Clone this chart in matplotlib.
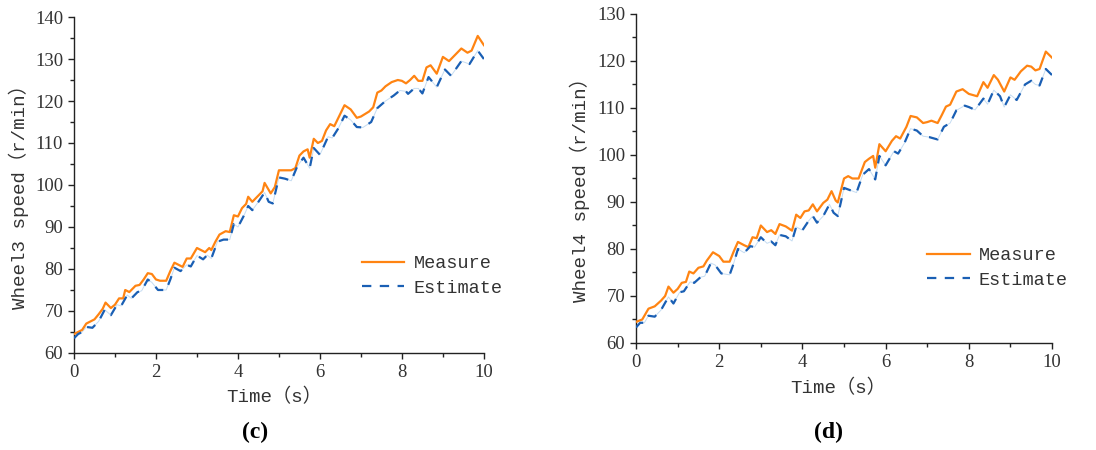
import matplotlib.pyplot as plt
from matplotlib.ticker import MultipleLocator

# --- panel (c): wheel 3 ---
t_meas_c = [0, 0.1, 0.2, 0.3, 0.4, 0.5, 0.6, 0.7, 0.77, 0.9, 1.0, 1.1, 1.2, 1.25, 1.35,
            1.5, 1.6, 1.7, 1.8, 1.9, 2.0, 2.1, 2.25, 2.35, 2.45, 2.55, 2.65, 2.75, 2.85,
            3.0, 3.1, 3.2, 3.3, 3.35, 3.45, 3.55, 3.7, 3.8, 3.9, 4.0, 4.1, 4.2, 4.25,
            4.35, 4.5, 4.6, 4.65, 4.8, 4.9, 5.0, 5.1, 5.3, 5.4, 5.5, 5.6, 5.7, 5.75,
            5.85, 5.95, 6.05, 6.15, 6.25, 6.35, 6.45, 6.6, 6.75, 6.9, 7.0, 7.2, 7.3,
            7.4, 7.5, 7.6, 7.75, 7.9, 8.0, 8.1, 8.2, 8.3, 8.4, 8.5, 8.6, 8.7, 8.85,
            9.0, 9.15, 9.3, 9.45, 9.6, 9.7, 9.85, 10.0]
v_meas_c = [64.5, 65, 65.5, 67, 67.5, 68, 69.2, 70.5, 72, 70.7, 71.5, 73, 73, 75, 74.5,
            76, 76.2, 77.5, 79, 78.8, 77.5, 77.2, 77.2, 79.5, 81.5, 81, 80.5, 82.5, 82.5,
            85, 84.5, 84, 85, 84.5, 86.5, 88.2, 89, 88.8, 92.8, 92.5, 94.5, 95.5, 97.2,
            96, 97.5, 98.5, 100.5, 98, 99.5, 103.5, 103.5, 103.5, 104, 107, 108, 108.5, 106.5,
            111, 110, 110.5, 113, 114.5, 114, 116, 119, 118, 116, 116.3, 117.5, 118.5,
            122, 122.5, 123.5, 124.5, 125, 124.8, 124.2, 125, 126, 124.8, 124.8, 128, 128.5, 126.5,
            130.5, 129.5, 131, 132.5, 131.5, 132, 135.5, 133.3]

t_est_c = [0, 0.1, 0.2, 0.3, 0.45, 0.6, 0.75, 0.9, 1.05, 1.15, 1.3, 1.4, 1.55, 1.65, 1.8,
           1.9, 2.05, 2.25, 2.35, 2.45, 2.6, 2.75, 2.85, 3.0, 3.15, 3.25, 3.35, 3.5, 3.65,
           3.8, 3.9, 4.0, 4.15, 4.25, 4.35, 4.5, 4.65, 4.75, 4.85, 5.0, 5.15, 5.3, 5.45,
           5.6, 5.75, 5.85, 6.0, 6.2, 6.3, 6.45, 6.6, 6.75, 6.9, 7.05, 7.25, 7.4, 7.6,
           7.8, 7.95, 8.1, 8.15, 8.3, 8.4, 8.5, 8.65, 8.85, 9.05, 9.2, 9.45, 9.65, 9.85, 10.0]
v_est_c = [63.5, 64.5, 65, 66.2, 66, 67.5, 70.3, 69, 71.5, 71.2, 73.8, 73, 74.5, 74.8, 77.5,
           76.8, 75, 75, 77.5, 80.3, 79.5, 81, 80.6, 83.2, 82.3, 83.3, 82.5, 86.5, 87,
           87, 90.7, 90, 92.8, 95, 94, 96, 98.2, 96, 95.6, 101.8, 101.5, 101, 104.5,
           106.5, 104, 108.8, 107.2, 111.5, 111.2, 113.5, 116.5, 115.5, 113.8, 113.7, 115, 118.3, 120,
           121.3, 122.5, 122.3, 121.7, 123, 123, 121.8, 125.7, 123.3, 127.5, 126, 129.5, 128.8, 132, 130]

# --- panel (d): wheel 4 ---
t_meas_d = [0, 0.15, 0.3, 0.45, 0.6, 0.7, 0.78, 0.9, 1.0, 1.1, 1.2, 1.28, 1.38, 1.5, 1.62,
            1.7, 1.85, 2.0, 2.1, 2.25, 2.35, 2.45, 2.6, 2.7, 2.8, 2.9, 3.0, 3.15, 3.25,
            3.35, 3.45, 3.6, 3.75, 3.85, 3.95, 4.05, 4.15, 4.25, 4.35, 4.5, 4.6, 4.7, 4.8,
            4.85, 5.0, 5.1, 5.2, 5.35, 5.5, 5.6, 5.7, 5.75, 5.85, 6.0, 6.15, 6.25, 6.35,
            6.5, 6.6, 6.75, 6.9, 7.0, 7.1, 7.25, 7.35, 7.45, 7.55, 7.7, 7.85, 8.0, 8.2,
            8.35, 8.45, 8.6, 8.7, 8.85, 9.0, 9.1, 9.25, 9.4, 9.5, 9.6, 9.7, 9.85, 10.0]
v_meas_d = [64.5, 65, 67.3, 67.8, 69, 70, 72, 70.7, 71.5, 72.8, 73, 75.2, 74.8, 76, 76.3,
            77.5, 79.3, 78.5, 77.3, 77.3, 79.5, 81.5, 80.8, 80.4, 82.5, 82.3, 85, 83.6, 84,
            83.2, 85.3, 84.8, 83.9, 87.3, 86.6, 88, 88.2, 89.5, 88, 89.8, 90.5, 92.3, 90.3,
            89.9, 95, 95.5, 95, 95, 98.5, 99.2, 99.8, 97.3, 102.3, 100.8, 103, 104, 103.5,
            106, 108.3, 108, 106.8, 107, 107.3, 106.8, 108.5, 110.3, 110.7, 113.5, 114, 113, 112.5,
            115.5, 114.3, 117, 116, 113.5, 116.5, 116, 117.8, 119, 118.8, 118, 118.3, 122, 120.7]

t_est_d = [0, 0.1, 0.2, 0.3, 0.45, 0.6, 0.78, 0.9, 1.05, 1.15, 1.3, 1.4, 1.55, 1.65, 1.8,
           1.9, 2.05, 2.25, 2.35, 2.45, 2.6, 2.75, 2.85, 3.0, 3.15, 3.25, 3.35, 3.45, 3.6,
           3.75, 3.85, 4.0, 4.15, 4.25, 4.35, 4.5, 4.65, 4.75, 4.85, 5.0, 5.15, 5.3, 5.45,
           5.6, 5.75, 5.85, 6.0, 6.2, 6.3, 6.45, 6.6, 6.75, 6.9, 7.05, 7.25, 7.4, 7.55,
           7.7, 7.9, 8.0, 8.15, 8.35, 8.45, 8.6, 8.75, 8.85, 9.0, 9.15, 9.35, 9.5, 9.6,
           9.7, 9.85, 10.0]
v_est_d = [63.3, 64.3, 64.3, 65.8, 65.6, 67, 69.8, 68.4, 70.8, 71, 73, 72.8, 74, 74.2, 77,
           76.6, 74.8, 74.5, 77, 80, 79.2, 80.6, 80.4, 82.5, 81.2, 81.6, 80.8, 83, 82.7,
           81.7, 84.7, 84, 86, 87, 85.6, 87, 89.5, 87.7, 87, 93, 92.5, 92, 95.8,
           97, 94.8, 99.8, 97.8, 100.8, 100.3, 102.5, 105.6, 105.2, 104, 103.8, 103.3, 106, 106.8,
           109.5, 110.5, 110.2, 109.6, 112, 110.8, 113.8, 112.5, 110.2, 112.8, 111.7, 115, 115.8, 115,
           114.8, 118.3, 117]

ylabels = ['Wheel3 speed（r/min）', 'Wheel4 speed（r/min）']
xlabel = 'Time（s）'
panel_tags = ['(c)', '(d)']
ylims = [(60, 140), (60, 130)]

orange = '#ff8412'
blue = '#1a5fb4'
label_font = ['Liberation Mono', 'Noto Sans CJK SC']

fig = plt.figure(figsize=(10.96, 4.5), dpi=100)
ax_c = fig.add_axes([0.0675, 0.2156, 0.374, 0.7466])
ax_d = fig.add_axes([0.5803, 0.2378, 0.3796, 0.7311])

series = [(t_meas_c, v_meas_c, t_est_c, v_est_c), (t_meas_d, v_meas_d, t_est_d, v_est_d)]
ylab_y = [0.48, 0.48]
leg_anchor = [(0.702, 0.229), (0.700, 0.228)]
xlab_pos = [(0.488, -0.105), (0.486, -0.11)]

for i, ax in enumerate([ax_c, ax_d]):
    tm, vm, te, ve = series[i]
    ax.plot(te, ve, color='#c5dcf2', lw=0.7, zorder=2)
    ax.plot(tm, vm, color=orange, lw=1.6, label='Measure', zorder=3)
    ax.plot(te, ve, color=blue, lw=1.6, dashes=(4.2, 3.8), label='Estimate', zorder=4)

    ax.set_xlim(0, 10)
    ax.set_ylim(*ylims[i])
    ax.xaxis.set_major_locator(MultipleLocator(2))
    ax.xaxis.set_minor_locator(MultipleLocator(1))
    ax.yaxis.set_major_locator(MultipleLocator(10))
    ax.yaxis.set_minor_locator(MultipleLocator(5))
    ax.spines['top'].set_visible(False)
    ax.spines['right'].set_visible(False)
    for s in ['left', 'bottom']:
        ax.spines[s].set_linewidth(1.0)
        ax.spines[s].set_color('#222222')
    ax.tick_params(which='major', direction='out', length=4.3, width=1.0, pad=3.5,
                   labelsize=13.5, color='#222222', labelcolor='#333333')
    ax.tick_params(which='minor', direction='out', length=3, width=1.0, color='#222222')
    for lab in ax.get_xticklabels() + ax.get_yticklabels():
        lab.set_family('Liberation Serif')

    ax.set_ylabel(ylabels[i], family=label_font, fontsize=13.8, color='#333333')
    ax.yaxis.set_label_coords(-0.11, ylab_y[i])
    ax.set_xlabel(xlabel, family=label_font, fontsize=13.8, color='#333333')
    ax.xaxis.set_label_coords(*xlab_pos[i])

    ax.legend(loc='center left', bbox_to_anchor=leg_anchor[i], frameon=False,
              borderpad=0, borderaxespad=0, handlelength=2.3, handletextpad=0.5,
              labelspacing=0.4, prop={'family': label_font, 'size': 13.3},
              labelcolor='#333333')

fig.text(0.2327, 0.038, panel_tags[0], ha='center', va='center', fontsize=17,
         fontweight='bold', family='Liberation Serif')
fig.text(0.7555, 0.038, panel_tags[1], ha='center', va='center', fontsize=17,
         fontweight='bold', family='Liberation Serif')

fig.savefig('out.png', dpi=100)
